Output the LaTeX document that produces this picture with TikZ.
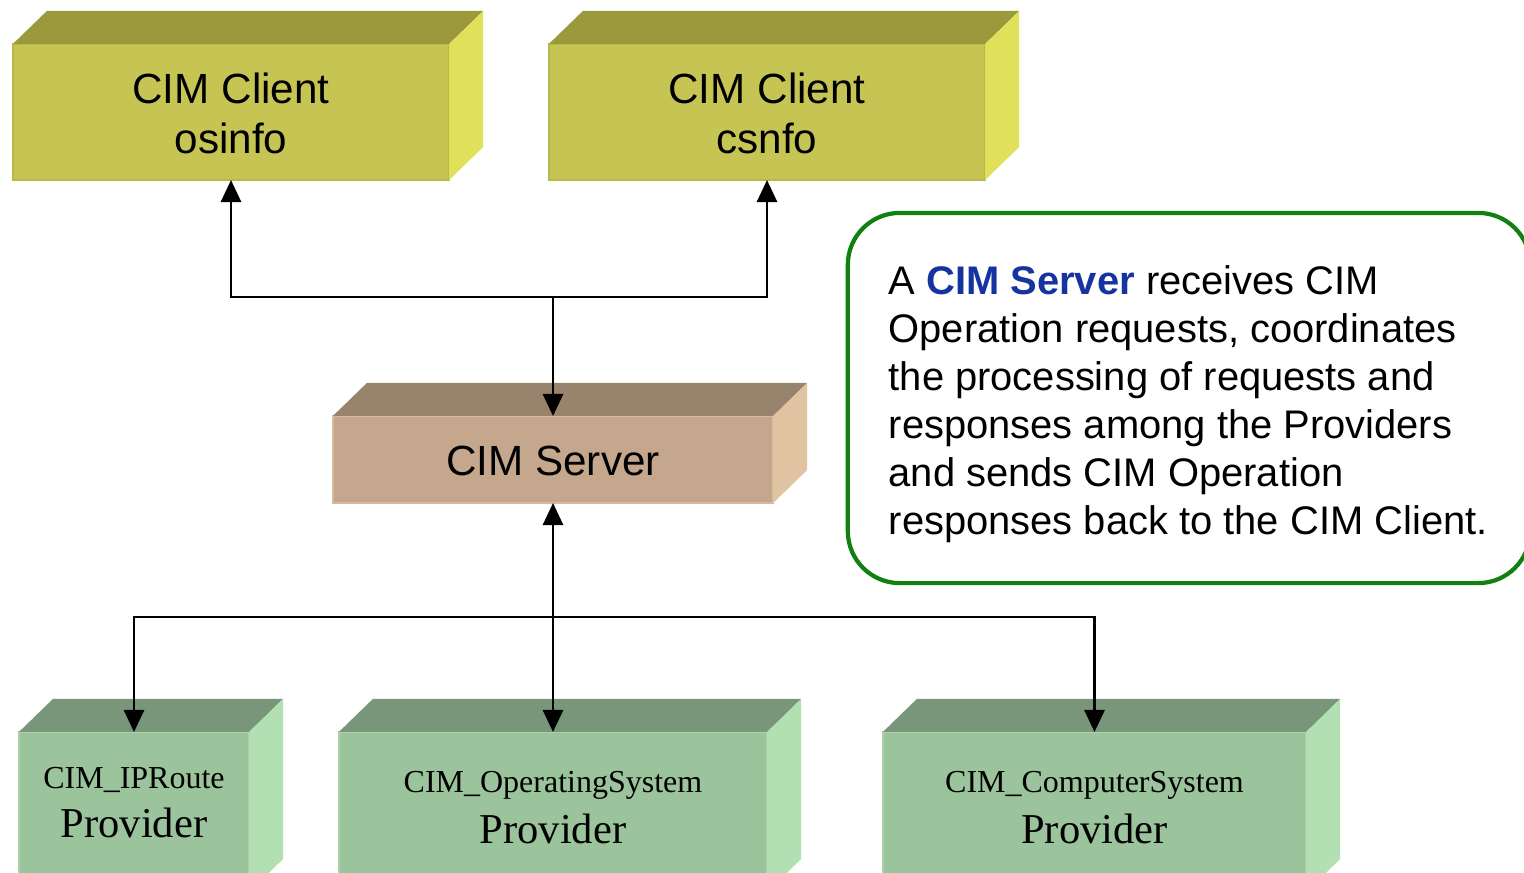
\documentclass[tikz,border=0pt]{standalone}
\usepackage{fontspec}
\setmainfont{Liberation Serif}
\setsansfont{Liberation Sans}
\usetikzlibrary{arrows.meta,calc}

% face colours of the three kinds of blocks
\definecolor{clientfront}{RGB}{198,196,82}
\definecolor{clienttop}{RGB}{154,154,60}
\definecolor{clientside}{RGB}{224,224,90}
\definecolor{clientedge}{RGB}{186,184,70}
\definecolor{serverfront}{RGB}{196,167,141}
\definecolor{servertop}{RGB}{152,132,108}
\definecolor{serverside}{RGB}{224,196,162}
\definecolor{serveredge}{RGB}{214,186,156}
\definecolor{provfront}{RGB}{156,196,156}
\definecolor{provtop}{RGB}{122,150,122}
\definecolor{provside}{RGB}{178,224,178}
\definecolor{provedge}{RGB}{170,210,170}
\definecolor{notegreen}{RGB}{16,128,16}
\definecolor{cimblue}{RGB}{22,52,160}

% top and right faces of a block, built on the corners of its front face
\newcommand\prismfaces[3]{%
  \fill[#2] (#1.north west) -- ++(34,-33) -- ($(#1.north east)+(34,-33)$) -- (#1.north east) -- cycle;
  \fill[#3] (#1.north east) -- ++(34,-33) -- ($(#1.south east)+(34,-33)$) -- (#1.south east) -- cycle;
}

\begin{document}
\begin{tikzpicture}[x=0.01cm,y=-0.01cm,
  face/.style={rectangle, inner sep=0pt, outer sep=0pt, line width=0.5pt},
  clientface/.style={face, fill=clientfront, draw=clientedge},
  serverface/.style={face, fill=serverfront, draw=serveredge},
  provface/.style={face, fill=provfront, draw=provedge},
  sanslabel/.style={anchor=base, inner sep=0pt, font=\sffamily\fontsize{12}{14}\selectfont},
  provsmall/.style={anchor=base, inner sep=0pt, font=\rmfamily\fontsize{9.1}{11}\selectfont},
  provbig/.style={anchor=base, inner sep=0pt, font=\rmfamily\fontsize{12.1}{14}\selectfont},
  notebox/.style={rectangle, draw=notegreen, line width=1.2pt, rounded corners=0.52cm,
    inner sep=0pt, outer sep=0pt},
  notetext/.style={anchor=north west, inner sep=0pt, align=left,
    font=\sffamily\fontsize{11.35}{13.66}\selectfont},
  conn/.style={draw=black, line width=0.6pt, -{Triangle[length=6.3pt,width=5.8pt]}}
]
\useasboundingbox (0,0) rectangle (1524,872);
\clip (0,0) rectangle (1524,872);

% clients
\node[clientface, minimum width=4.36cm, minimum height=1.36cm] (c1) at (231,112) {};
\node[clientface, minimum width=4.36cm, minimum height=1.36cm] (c2) at (767,112) {};
\prismfaces{c1}{clienttop}{clientside}
\prismfaces{c2}{clienttop}{clientside}
\node[sanslabel] (c1a) at ($(c1.north)+(0,60)$) {CIM Client};
\node[sanslabel] (c1b) at ($(c1.north)+(0,110)$) {osinfo};
\node[sanslabel] (c2a) at ($(c2.north)+(0,60)$) {CIM Client};
\node[sanslabel] (c2b) at ($(c2.north)+(0,110)$) {csnfo};

% server
\node[serverface, minimum width=4.40cm, minimum height=0.87cm] (srv) at (553,459.5) {};
\prismfaces{srv}{servertop}{serverside}
\node[sanslabel] (srvl) at ($(srv.north)+(0,60)$) {CIM Server};

% providers
\node[provface, minimum width=2.30cm, minimum height=1.60cm] (p1) at (134,812) {};
\node[provface, minimum width=4.28cm, minimum height=1.60cm] (p2) at (553,812) {};
\node[provface, minimum width=4.23cm, minimum height=1.60cm] (p3) at (1094.5,812) {};
\prismfaces{p1}{provtop}{provside}
\prismfaces{p2}{provtop}{provside}
\prismfaces{p3}{provtop}{provside}
\node[provsmall] (p1a) at ($(p1.north)+(0,57)$) {CIM\_IPRoute};
\node[provbig] (p1b) at ($(p1.north)+(0,106)$) {Provider};
\node[provsmall] (p2a) at ($(p2.north)+(0,61)$) {CIM\_OperatingSystem};
\node[provbig] (p2b) at ($(p2.north)+(0,112)$) {Provider};
\node[provsmall] (p3a) at ($(p3.north)+(0,61)$) {CIM\_ComputerSystem};
\node[provbig] (p3b) at ($(p3.north)+(0,112)$) {Provider};

% explanatory note
\node[notebox, minimum width=6.82cm, minimum height=3.70cm] (note) at (1189,398) {};
\node[notetext] (notet) at (888,265) {A \textcolor{cimblue}{\textbf{CIM Server}} receives CIM\\
Operation requests, coordinates\\
the processing of requests and\\
responses among the Providers\\
and sends CIM Operation\\
responses back to the CIM Client.};

% connectors
\coordinate (jt) at ($(srv.north)+(0,-119)$);
\coordinate (jb) at ($(srv.south)+(0,114)$);
\draw[conn] (jt) -| (c1.south);
\draw[conn] (jt) -| (c2.south);
\draw[conn] (jt) -- (srv.north);
\draw[conn] (jb) -- (srv.south);
\draw[conn] (jb) -| (p1.north);
\draw[conn] (jb) -- (p2.north);
\draw[conn] (jb) -| (p3.north);
\end{tikzpicture}
\end{document}
